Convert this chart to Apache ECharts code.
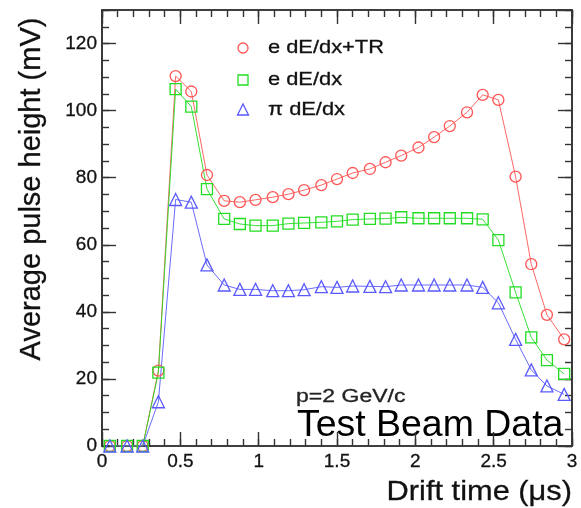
<!DOCTYPE html>
<html>
<head>
<meta charset="utf-8">
<script src="https://cdn.jsdelivr.net/npm/echarts@6/dist/echarts.min.js"></script>
<style>
html,body{margin:0;padding:0;background:#fff;}
#chart{width:581px;height:508px;}
</style>
</head>
<body>
<div id="chart"></div>
<script>
// Drift time bin centres (µs)
var driftTime = [0.05,0.16,0.26,0.36,0.47,0.57,0.67,0.78,0.88,0.98,1.09,1.19,1.29,1.40,1.50,1.60,1.71,1.81,1.91,2.02,2.12,2.22,2.33,2.43,2.53,2.64,2.74,2.84,2.95];
// Average pulse height (mV)
var eTR   = [0,0,0,22.5,110.3,105.7,80.8,73.1,72.7,73.4,74.2,75.1,76.3,77.8,79.6,81.4,82.6,84.6,86.6,89.0,92.1,95.4,99.5,104.7,103.2,80.3,54.2,39.1,31.8];
var eDedx = [0,0,0,21.9,106.4,101.2,76.6,67.7,66.2,65.7,65.7,66.3,66.5,66.7,67.0,67.5,67.7,67.8,68.2,67.9,67.9,67.9,67.9,67.6,61.4,45.8,32.4,25.6,21.5];
var piDedx= [0,0,0,13.2,73.5,72.7,54.0,48.0,46.7,46.7,46.3,46.3,46.6,47.5,47.3,47.7,47.6,47.5,48.0,48.0,48.0,48.0,48.0,47.3,42.7,31.8,22.7,17.9,15.4];
var seriesNames = ['e dE/dx+TR','e dE/dx','\u03c0 dE/dx'];
var xTitle = 'Drift time (\u03bcs)';
var yTitle = 'Average pulse height (mV)';

function pairs(ys){ return driftTime.map(function(x,i){ return [x, ys[i]]; }); }

var FONT = '"Liberation Sans", Arial, Helvetica, sans-serif';
var AX = '#333';
var RED = '#ff5555', GREEN = '#22dd22', BLUE = '#5a5aff';

var chart = echarts.init(document.getElementById('chart'), null, {renderer:'canvas'});
var gridRect = {left:102, top:10, width:470, height:436};

function xAx(grid, pos, interval, len, labels){
  return {type:'value', gridIndex:grid, position:pos, min:0, max:3, interval:interval,
    axisLine:{show:true, onZero:false, lineStyle:{color:AX, width:1.6}},
    axisTick:{show:true, inside:true, length:len, lineStyle:{color:AX, width:1.4}},
    axisLabel:{show:labels, margin:6, fontSize:19, fontFamily:FONT, color:'#111', textBorderColor:'#111', textBorderWidth:0.3},
    splitLine:{show:false}};
}
function yAx(grid, pos, interval, len, labels){
  return {type:'value', gridIndex:grid, position:pos, min:0, max:130, interval:interval,
    axisLine:{show:true, onZero:false, lineStyle:{color:AX, width:1.6}},
    axisTick:{show:true, inside:true, length:len, lineStyle:{color:AX, width:1.4}},
    axisLabel:{show:labels, margin:5, fontSize:19, fontFamily:FONT, color:'#111', textBorderColor:'#111', textBorderWidth:0.3,
      formatter:function(v){ return (v % 20 === 0) ? String(v) : ''; }},
    splitLine:{show:false}};
}

function ser(name, ys, symbol, color){
  return {name:name, type:'line', xAxisIndex:0, yAxisIndex:0, data:pairs(ys),
    symbol:symbol, symbolSize: symbol==='triangle'?12:11, showSymbol:true,
    lineStyle:{color:color, width:1, opacity:0.9},
    itemStyle:{color:'rgba(0,0,0,0)', borderColor:color, borderWidth:1.3},
    emphasis:{disabled:true}, animation:false, z:3};
}

var option = {
  animation:false,
  backgroundColor:'#fff',
  grid:[Object.assign({}, gridRect), Object.assign({}, gridRect)],
  xAxis:[xAx(0,'bottom',0.5,14,true), xAx(0,'top',0.5,14,false), xAx(1,'bottom',0.1,7,false), xAx(1,'top',0.1,7,false)],
  yAxis:[yAx(0,'left',20,14,true), yAx(0,'right',20,14,false), yAx(1,'left',5,7,false), yAx(1,'right',5,7,false)],
  series:[
    ser(seriesNames[0], eTR, 'circle', RED),
    ser(seriesNames[1], eDedx, 'rect', GREEN),
    ser(seriesNames[2], piDedx, 'triangle', BLUE)
  ],
  graphic:[
    // legend markers
    {type:'circle', shape:{cx:243, cy:48, r:5}, style:{fill:'none', stroke:RED, lineWidth:1.3}},
    {type:'rect', shape:{x:238, y:75, width:10, height:10}, style:{fill:'none', stroke:GREEN, lineWidth:1.3}},
    {type:'polygon', shape:{points:[[243,104],[237.5,115],[248.5,115]]}, style:{fill:'none', stroke:BLUE, lineWidth:1.3}},
    // legend texts
    {type:'text', x:268, y:48, scaleX:1.15, style:{text:seriesNames[0], font:'19px '+FONT, fill:'#111', stroke:'#111', lineWidth:0.3, verticalAlign:'middle', align:'left'}},
    {type:'text', x:268, y:80, scaleX:1.15, style:{text:seriesNames[1], font:'19px '+FONT, fill:'#111', stroke:'#111', lineWidth:0.3, verticalAlign:'middle', align:'left'}},
    {type:'text', x:268, y:110, scaleX:1.15, style:{text:seriesNames[2], font:'19px '+FONT, fill:'#111', stroke:'#111', lineWidth:0.3, verticalAlign:'middle', align:'left'}},
    // annotations
    {type:'text', x:296, y:397, scaleX:1.28, style:{text:'p=2 GeV/c', font:'18px '+FONT, fill:'#222', stroke:'#222', lineWidth:0.3, verticalAlign:'middle', align:'left'}},
    {type:'text', x:297, y:426, scaleX:1.04, style:{text:'Test Beam Data', font:'36px '+FONT, fill:'#000', verticalAlign:'middle', align:'left'}},
    // axis titles
    {type:'text', x:572, y:492, scaleX:1.1, style:{text:xTitle, font:'28px '+FONT, fill:'#111', stroke:'#111', lineWidth:0.3, verticalAlign:'middle', align:'right'}},
    {type:'text', x:32, y:189, rotation:Math.PI/2, style:{text:yTitle, font:'29px '+FONT, fill:'#111', stroke:'#111', lineWidth:0.3, verticalAlign:'middle', align:'center'}}
  ]
};
chart.setOption(option);
</script>
</body>
</html>
